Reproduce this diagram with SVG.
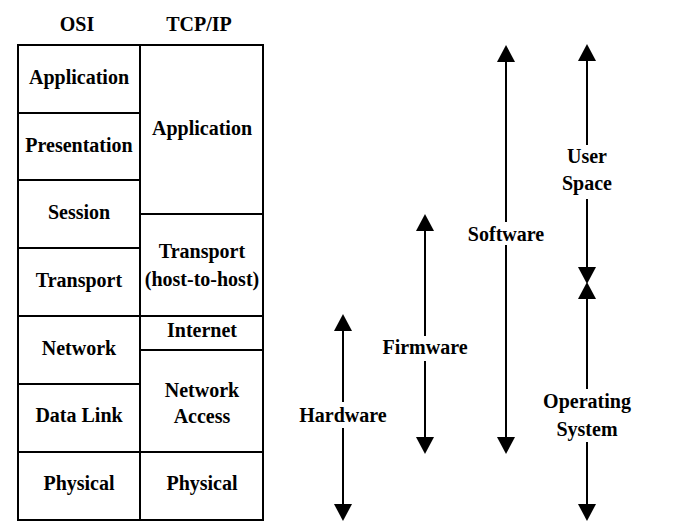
<svg xmlns="http://www.w3.org/2000/svg" width="692" height="528" viewBox="0 0 692 528">
<style>
.cell{fill:#fff;stroke:#000;stroke-width:2}
text{font-family:"Liberation Serif","Times New Roman",serif;font-weight:bold;font-size:20px;fill:#000;text-anchor:middle}
.ln{stroke:#000;stroke-width:2;fill:none}
.up{marker-start:url(#ah)}
.dn{marker-end:url(#ah)}
</style>
<defs>
<marker id="ah" markerUnits="userSpaceOnUse" viewBox="0 0 17 18" refX="8" refY="9" markerWidth="17" markerHeight="18" orient="auto-start-reverse">
<path d="M0,0 L17,9 L0,18 Z" fill="#000"/>
</marker>
</defs>
<rect width="692" height="528" fill="#fff"/>
<g id="headers">
<text x="77" y="31">OSI</text>
<text x="199" y="31">TCP/IP</text>
</g>
<g id="osi-application"><rect class="cell" x="18" y="45" width="122" height="68"/><text x="79" y="84">Application</text></g>
<g id="osi-presentation"><rect class="cell" x="18" y="113" width="122" height="67"/><text x="79" y="152">Presentation</text></g>
<g id="osi-session"><rect class="cell" x="18" y="180" width="122" height="68"/><text x="79" y="219">Session</text></g>
<g id="osi-transport"><rect class="cell" x="18" y="248" width="122" height="68"/><text x="79" y="287">Transport</text></g>
<g id="osi-network"><rect class="cell" x="18" y="316" width="122" height="68"/><text x="79" y="355">Network</text></g>
<g id="osi-datalink"><rect class="cell" x="18" y="384" width="122" height="68"/><text x="79" y="422">Data Link</text></g>
<g id="osi-physical"><rect class="cell" x="18" y="452" width="122" height="68"/><text x="79" y="490">Physical</text></g>
<g id="tcp-application"><rect class="cell" x="140" y="45" width="123" height="169"/><text x="202" y="135">Application</text></g>
<g id="tcp-transport"><rect class="cell" x="140" y="214" width="123" height="102"/><text x="202" y="258">Transport</text><text x="202" y="286">(host-to-host)</text></g>
<g id="tcp-internet"><rect class="cell" x="140" y="316" width="123" height="34"/><text x="202" y="337">Internet</text></g>
<g id="tcp-networkaccess"><rect class="cell" x="140" y="350" width="123" height="102"/><text x="202" y="397">Network</text><text x="202" y="423">Access</text></g>
<g id="tcp-physical"><rect class="cell" x="140" y="452" width="123" height="68"/><text x="202" y="490">Physical</text></g>
<g id="connectors">
<line class="ln up" x1="343" y1="323" x2="343" y2="402"/>
<line class="ln dn" x1="343" y1="428" x2="343" y2="512"/>
<line class="ln up" x1="425" y1="223" x2="425" y2="336"/>
<line class="ln dn" x1="425" y1="361" x2="425" y2="445"/>
<line class="ln up" x1="506" y1="54" x2="506" y2="222"/>
<line class="ln dn" x1="506" y1="245" x2="506" y2="445"/>
<line class="ln up" x1="587" y1="53" x2="587" y2="145"/>
<line class="ln dn" x1="587" y1="199" x2="587" y2="275"/>
<line class="ln up" x1="587" y1="291" x2="587" y2="389"/>
<line class="ln dn" x1="587" y1="442" x2="587" y2="512"/>
</g>
<g id="label-hardware"><text x="343" y="422">Hardware</text></g>
<g id="label-firmware"><text x="425" y="354">Firmware</text></g>
<g id="label-software"><text x="506" y="241">Software</text></g>
<g id="label-userspace"><text x="587" y="163">User</text><text x="587" y="190">Space</text></g>
<g id="label-os"><text x="587" y="408">Operating</text><text x="587" y="436">System</text></g>
</svg>
